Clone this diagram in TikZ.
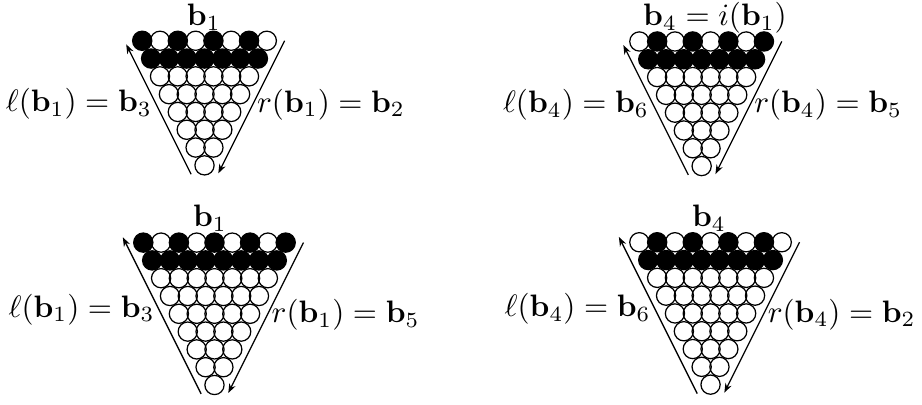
\documentclass[tikz,border=0pt]{standalone}
\usepackage{amsmath,amssymb}
\usepackage{tikz}
\usetikzlibrary{arrows.meta}

\tikzset{
  bead/.style={draw,line width=0.4pt},
  fullbead/.style={bead,fill=black},
  rim/.style={line width=0.4pt},
  lab/.style={inner sep=1.2pt},
}

% one rack of beads: name, origin x, origin y, rows, top row starts white (0/1)
\newcommand{\beadrack}[5]{%
  \begin{scope}[shift={(#2,#3)}]
    \pgfmathtruncatemacro\racklast{#4-1}
    \pgfmathtruncatemacro\rackmid{#4-2}
    \pgfmathsetmacro\racktop{4.2-0.5*#4}
    \foreach \row in {2,...,\racklast}{%
      \pgfmathtruncatemacro\rackm{#4-\row-1}
      \foreach \col in {0,...,\rackm}
        \draw[bead] ({\col+\row/2},\row) circle[radius=3.1pt];
    }
    \foreach \col in {0,...,\rackmid}
      \draw[fullbead] ({\col+0.5},1) circle[radius=3.1pt];
    \foreach \col in {0,...,\racklast}{%
      \ifodd\numexpr\col+#5\relax
        \draw[bead] (\col,0) circle[radius=3.1pt];
      \else
        \draw[fullbead] (\col,0) circle[radius=3.1pt];
      \fi
    }
    \coordinate (#1-lb) at ({(#4-0.5)/2-1},{#4-0.5});
    \coordinate (#1-lt) at ({\racktop/2-1},\racktop);
    \coordinate (#1-rt) at (#4,0);
    \coordinate (#1-rb) at ({#4-(#4-0.55)/2},{#4-0.55});
  \end{scope}%
}

\begin{document}
\begin{tikzpicture}[x=5.74pt,y=-5.74pt,>={Stealth[length=3pt,width=2.2pt]}]
  \useasboundingbox (0,0) rectangle (51.8,22.7);

  % top left
  \beadrack{tl}{7.99}{2.29}{8}{0}
  \node (tl-name) at (11.45,0.98) {$\mathbf{b}_1$};
  \draw[rim,->] (tl-lb) -- node[pos=.54,left,lab] (tl-l) {$\ell(\mathbf{b}_1)=\mathbf{b}_3$} (tl-lt);
  \draw[rim,->] (tl-rt) -- node[pos=.48,right,lab] (tl-r) {$r(\mathbf{b}_1)=\mathbf{b}_2$} (tl-rb);

  % top right
  \beadrack{tr}{35.92}{2.33}{8}{1}
  \node (tr-name) at (40.17,1.02) {$\mathbf{b}_4=i(\mathbf{b}_1)$};
  \draw[rim,->] (tr-lb) -- node[pos=.54,left,lab] (tr-l) {$\ell(\mathbf{b}_4)=\mathbf{b}_6$} (tr-lt);
  \draw[rim,->] (tr-rt) -- node[pos=.48,right,lab] (tr-r) {$r(\mathbf{b}_4)=\mathbf{b}_5$} (tr-rb);

  % bottom left
  \beadrack{bl}{8.05}{13.63}{9}{0}
  \node (bl-name) at (11.8,12.25) {$\mathbf{b}_1$};
  \draw[rim,->] (bl-lb) -- node[pos=.54,left,lab] (bl-l) {$\ell(\mathbf{b}_1)=\mathbf{b}_3$} (bl-lt);
  \draw[rim,->] (bl-rt) -- node[pos=.48,right,lab] (bl-r) {$r(\mathbf{b}_1)=\mathbf{b}_5$} (bl-rb);

  % bottom right
  \beadrack{br}{35.92}{13.61}{9}{1}
  \node (br-name) at (39.83,12.25) {$\mathbf{b}_4$};
  \draw[rim,->] (br-lb) -- node[pos=.54,left,lab] (br-l) {$\ell(\mathbf{b}_4)=\mathbf{b}_6$} (br-lt);
  \draw[rim,->] (br-rt) -- node[pos=.48,right,lab] (br-r) {$r(\mathbf{b}_4)=\mathbf{b}_2$} (br-rb);
\end{tikzpicture}
\end{document}
